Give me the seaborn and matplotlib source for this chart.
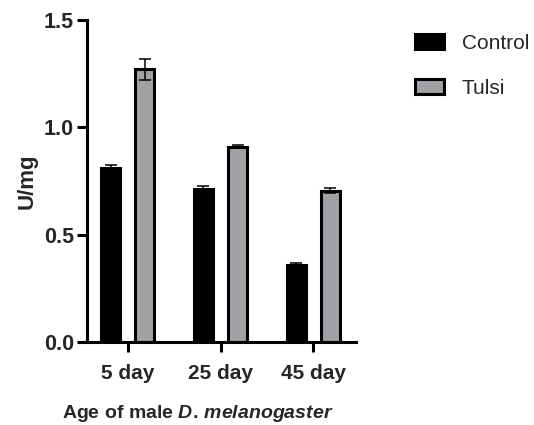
import matplotlib
matplotlib.use("Agg")
import matplotlib.pyplot as plt
from matplotlib import font_manager
from matplotlib.font_manager import FontProperties
from matplotlib.patches import Patch
import pandas as pd
import seaborn as sns

# Enzyme activity by age and treatment
ages = ["5 day", "25 day", "45 day"]
groups = ["Control", "Tulsi"]
control_mean = [0.81, 0.715, 0.36]
control_sem = [0.015, 0.013, 0.006]
tulsi_mean = [1.27, 0.91, 0.705]
tulsi_sem = [0.05, 0.006, 0.012]
colors = ["#000000", "#a1a1a5"]
ytick_values = [0.0, 0.5, 1.0, 1.5]
ytick_labels = ["0.0", "0.5", "1.0", "1.5"]

sns.set_style("ticks")
plt.rcParams["font.family"] = ["Liberation Sans", "DejaVu Sans"]

try:
    font_manager.findfont(FontProperties(family="Liberation Sans Narrow", weight="bold"),
                          fallback_to_default=False)
    narrow = "Liberation Sans Narrow"
except ValueError:
    narrow = "Liberation Sans"

plt.rcParams["mathtext.fontset"] = "custom"
plt.rcParams["mathtext.it"] = f"{narrow}:italic:bold"
plt.rcParams["mathtext.rm"] = f"{narrow}:bold"
plt.rcParams["mathtext.bf"] = f"{narrow}:bold"

df = pd.DataFrame({
    "age": ages * 2,
    "group": [groups[0]] * len(ages) + [groups[1]] * len(ages),
    "value": control_mean + tulsi_mean,
})

fig = plt.figure(figsize=(5.34, 4.25), dpi=100)
ax = fig.add_axes([87 / 534, 1 - 342 / 425, 269 / 534, 322 / 425])

sns.barplot(data=df, x="age", y="value", hue="group", order=ages, hue_order=groups,
            palette=colors, width=0.74, gap=0.446, edgecolor="black", linewidth=2.2,
            errorbar=None, legend=False, ax=ax, zorder=2)

bar_sets = list(ax.containers[:2])
for bars, means, errs in zip(bar_sets, [control_mean, tulsi_mean], [control_sem, tulsi_sem]):
    xs = [p.get_x() + p.get_width() / 2 for p in bars]
    ax.errorbar(xs, means, yerr=errs, fmt="none", ecolor="black", elinewidth=1.1,
                capsize=4.3, capthick=1.1, zorder=3)

ax.set_xlim(-0.44, 2.46)
ax.set_ylim(0, 1.5)
ax.set_yticks(ytick_values)
ax.set_yticklabels(ytick_labels, fontsize=15.5, fontweight="bold")
ax.set_xticks(range(len(ages)))
ax.set_xticklabels(ages, fontsize=15, fontweight="bold", family=[narrow, "DejaVu Sans"])
ax.tick_params(axis="both", direction="out", length=7.5, width=2.2, color="black")
ax.tick_params(axis="x", pad=8)
ax.tick_params(axis="y", pad=2)

sns.despine(ax=ax)
for side in ("left", "bottom"):
    ax.spines[side].set_linewidth(2.2)
    ax.spines[side].set_color("black")

ax.set_ylabel("")
ax.set_xlabel(r"Age of male $\mathit{D.\,melanogaster}$", fontsize=14,
              fontweight="bold", family=[narrow, "DejaVu Sans"])
ax.xaxis.set_label_coords(0.413, -0.19)

fig.text(27 / 534, 1 - 181 / 425, "U/mg", rotation=90, ha="center", va="center",
         fontsize=16, fontweight="bold")

handles = [Patch(facecolor=c, edgecolor="black", linewidth=2.2) for c in colors]
ax.legend(handles, groups, loc="upper left", bbox_to_anchor=(415 / 534, 1 - 34 / 425),
          bbox_transform=fig.transFigure, frameon=False, fontsize=15,
          handlelength=1.4, handleheight=0.7, handletextpad=0.85, labelspacing=1.25,
          borderpad=0, borderaxespad=0)

fig.savefig("out.png", dpi=100)
